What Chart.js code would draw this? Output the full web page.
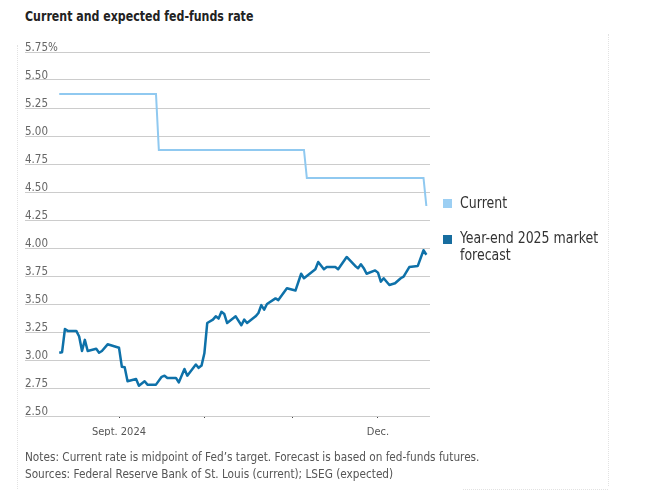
<!DOCTYPE html>
<html>
<head>
<meta charset="utf-8">
<script src="https://cdn.jsdelivr.net/npm/chart.js@4"></script>
<style>
  html, body { margin: 0; padding: 0; background: #fff; width: 646px; height: 493px; overflow: hidden; }
  body { position: relative; font-family: "DejaVu Sans Condensed", "DejaVu Sans", sans-serif; }
  .sq { transform-origin: 0 0; white-space: nowrap; }
  #title { position: absolute; left: 25px; top: 8px; font-size: 14.5px; font-weight: bold; color: #222; transform: scaleX(0.845); }
  #wrap { position: absolute; left: 0; top: 0; width: 646px; height: 450px; }
  .leg { position: absolute; left: 460px; font-size: 15px; color: #333; line-height: 17px; transform: scaleX(0.93); }
  .sw { position: absolute; left: 443px; width: 9px; height: 9px; }
  #notes { position: absolute; left: 25px; top: 448px; font-size: 13px; color: #555; line-height: 17px; transform: scaleX(0.9); }
  .fr { position: absolute; border-color: #e2e2e2; border-style: dotted; border-width: 0; }
</style>
</head>
<body>
<div class="fr" style="left:17px; top:45px; height:444px; border-left-width:1px;"></div>
<div class="fr" style="left:608px; top:34px; height:452px; border-left-width:1px;"></div>
<div class="fr" style="left:463px; top:489px; width:145px; border-top-width:1px;"></div>
<div id="title" class="sq">Current and expected fed-funds rate</div>
<div id="wrap"><canvas id="c" width="646" height="450"></canvas></div>
<div class="sw" style="top:199px; background:#9ccff3;"></div>
<div class="leg sq" style="top:195px;">Current</div>
<div class="sw" style="top:235px; background:#176d9f;"></div>
<div class="leg sq" style="top:230px;">Year-end 2025 market<br>forecast</div>
<div id="notes" class="sq">Notes: Current rate is midpoint of Fed’s target. Forecast is based on fed-funds futures.<br>Sources: Federal Reserve Bank of St. Louis (current); LSEG (expected)</div>
<script>
const seriesNames = ["Current", "Year-end 2025 market forecast"];

const currentDates = ["2024-08-11", "2024-09-14", "2024-09-15", "2024-11-05", "2024-11-06", "2024-12-17", "2024-12-18"];
const currentValues = [5.375, 5.375, 4.875, 4.875, 4.625, 4.625, 4.375];

const forecastDates = [
  "2024-08-11","2024-08-12","2024-08-13","2024-08-14","2024-08-17","2024-08-18","2024-08-19","2024-08-20","2024-08-21","2024-08-24","2024-08-25","2024-08-26","2024-08-28",
  "2024-09-01","2024-09-02","2024-09-03","2024-09-04","2024-09-07","2024-09-08","2024-09-10","2024-09-11","2024-09-14","2024-09-16","2024-09-17","2024-09-18","2024-09-21","2024-09-22","2024-09-24","2024-09-25","2024-09-28","2024-09-29","2024-09-30",
  "2024-10-01","2024-10-02","2024-10-04","2024-10-05","2024-10-06","2024-10-07","2024-10-08","2024-10-09","2024-10-12","2024-10-14","2024-10-15","2024-10-16","2024-10-19","2024-10-20","2024-10-21","2024-10-22","2024-10-23","2024-10-26","2024-10-27","2024-10-30",
  "2024-11-02","2024-11-04","2024-11-05","2024-11-09","2024-11-10","2024-11-12","2024-11-13","2024-11-16","2024-11-17","2024-11-20","2024-11-23","2024-11-24","2024-11-25","2024-11-26","2024-11-27","2024-11-30",
  "2024-12-01","2024-12-02","2024-12-03","2024-12-05","2024-12-07","2024-12-09","2024-12-10","2024-12-12","2024-12-15","2024-12-17","2024-12-18"
];
const forecastValues = [
  3.065, 3.07, 3.277, 3.26, 3.26, 3.21, 3.08, 3.18, 3.08, 3.10, 3.065, 3.08, 3.14,
  3.11, 2.94, 2.935, 2.81, 2.83, 2.77, 2.81, 2.78, 2.78, 2.85, 2.86, 2.84, 2.84, 2.80, 2.92, 2.86, 2.96, 2.93, 2.95,
  3.06, 3.33, 3.36, 3.39, 3.37, 3.43, 3.41, 3.33, 3.39, 3.31, 3.36, 3.33, 3.39, 3.42, 3.49, 3.45, 3.50, 3.55, 3.535, 3.64,
  3.62, 3.77, 3.73, 3.81, 3.875, 3.81, 3.83, 3.83, 3.81, 3.92, 3.84, 3.82, 3.855, 3.82, 3.77, 3.80,
  3.78, 3.70, 3.73, 3.67, 3.685, 3.73, 3.745, 3.83, 3.84, 3.98, 3.94
];

const xTickDates = ["2024-09-01", "2024-10-01", "2024-11-01", "2024-12-01"];
const xTickLabels = ["Sept. 2024", "", "", "Dec."];
const xRangeDates = ["2024-07-30", "2024-12-18"];
const yMin = 2.5, yMax = 5.75, yStep = 0.25;

const ORIGIN = Date.UTC(2024, 8, 1);
function dayOf(s) {
  const p = s.split("-").map(Number);
  return (Date.UTC(p[0], p[1] - 1, p[2]) - ORIGIN) / 86400000;
}
const toPoints = (ds, vs) => ds.map((d, i) => ({ x: dayOf(d), y: vs[i] }));
const tickDays = xTickDates.map(dayOf);

const FONT = "'DejaVu Sans Condensed', 'DejaVu Sans', sans-serif";

new Chart(document.getElementById("c"), {
  type: "line",
  data: {
    datasets: [
      { label: seriesNames[0], data: toPoints(currentDates, currentValues), borderColor: "#90c9f0", borderWidth: 2, pointRadius: 0, tension: 0, order: 2 },
      { label: seriesNames[1], data: toPoints(forecastDates, forecastValues), borderColor: "#0e71a9", borderWidth: 2.5, pointRadius: 0, tension: 0, borderJoinStyle: "round", order: 1 }
    ]
  },
  options: {
    responsive: false,
    animation: false,
    events: [],
    layout: { padding: { left: 25, right: 216, top: 52, bottom: 14 } },
    plugins: { legend: { display: false }, tooltip: { enabled: false } },
    scales: {
      x: {
        type: "linear",
        min: dayOf(xRangeDates[0]) - 0.03,
        max: dayOf(xRangeDates[1]) + 1.28,
        afterBuildTicks: (scale) => { scale.ticks = tickDays.map(v => ({ value: v })); },
        afterFit: (scale) => { scale.height = 20; },
        grid: { drawOnChartArea: false, drawTicks: true, tickLength: 2, color: "#444", lineWidth: 1 },
        border: { display: false },
        ticks: {
          autoSkip: false, maxRotation: 0, padding: 8,
          color: "#555", font: { family: FONT, size: 11 },
          callback: (v) => { const i = tickDays.indexOf(v); return i >= 0 ? xTickLabels[i] : ""; }
        }
      },
      y: {
        min: yMin, max: yMax,
        border: { display: false },
        grid: { drawTicks: false, color: "#cccccc", lineWidth: 1, borderDash: [1, 2] },
        ticks: {
          stepSize: yStep, mirror: true, padding: 0, labelOffset: -4,
          color: "#666", font: { family: FONT, size: 11.5 },
          callback: (v) => v.toFixed(2) + (Math.abs(v - yMax) < 1e-9 ? "%" : "")
        }
      }
    }
  }
});
</script>
</body>
</html>
